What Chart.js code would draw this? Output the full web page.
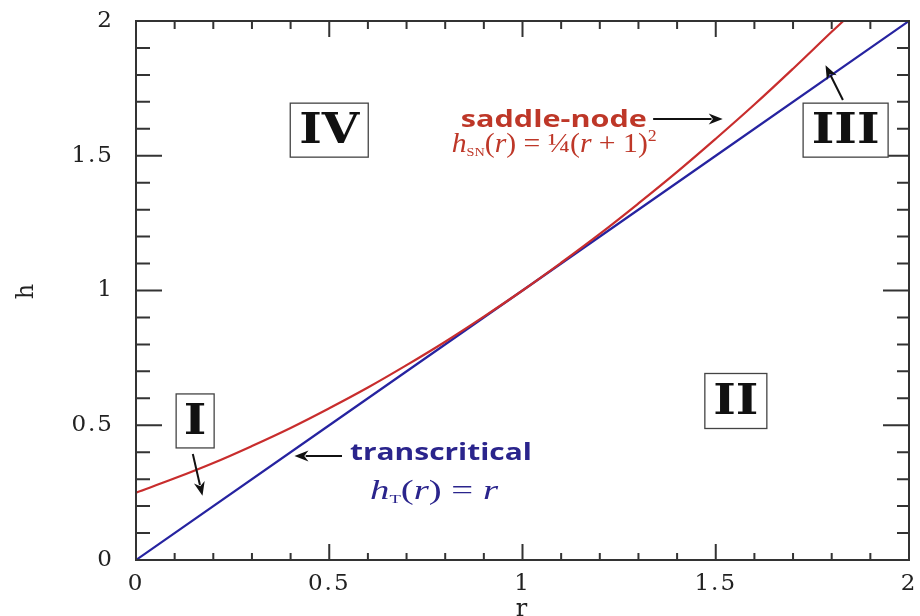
<!DOCTYPE html>
<html>
<head>
<meta charset="utf-8">
<script src="https://cdn.jsdelivr.net/npm/chart.js@4.4.1/dist/chart.umd.min.js"></script>
<style>
  html, body { margin: 0; padding: 0; background: #ffffff; }
  #wrap { width: 920px; height: 616px; position: relative; }
</style>
</head>
<body>
<div id="wrap"><canvas id="c" width="920" height="616"></canvas></div>
<script>
// ---------- data ----------
const rSaddleNode = [0, 0.1, 0.2, 0.3, 0.4, 0.5, 0.6, 0.7, 0.8, 0.9, 1.0, 1.1, 1.2, 1.3, 1.4, 1.5, 1.6, 1.7, 1.8, 1.83];
const hSaddleNode = [0.250, 0.303, 0.360, 0.423, 0.490, 0.563, 0.640, 0.723, 0.810, 0.903, 1.000, 1.103, 1.210, 1.323, 1.440, 1.563, 1.690, 1.823, 1.960, 2.000];
const rTranscritical = [0, 0.5, 1.0, 1.5, 2.0];
const hTranscritical = [0, 0.5, 1.0, 1.5, 2.0];
const xTickLabels = ['0', '0.5', '1', '1.5', '2'];
const yTickLabels = ['0', '0.5', '1', '1.5', '2'];
const minorTickValues = [0, 0.1, 0.2, 0.3, 0.4, 0.5, 0.6, 0.7, 0.8, 0.9, 1.0, 1.1, 1.2, 1.3, 1.4, 1.5, 1.6, 1.7, 1.8, 1.9, 2.0];
const regionNames = ['I', 'II', 'III', 'IV'];
const seriesNames = ['saddle-node', 'transcritical'];

// ---------- annotation placement (data coordinates) ----------
const regionPlacement = [
  { r: 0.153, h: 0.516, w: 38, hgt: 54 },
  { r: 1.552, h: 0.590, w: 62, hgt: 55 },
  { r: 1.836, h: 1.595, w: 85, hgt: 54 },
  { r: 0.500, h: 1.595, w: 78, hgt: 54 }
];
const arrows = [
  { from: [0.147, 0.393], to: [0.172, 0.238] },
  { from: [0.533, 0.386], to: [0.410, 0.386] },
  { from: [1.338, 1.636], to: [1.518, 1.636] },
  { from: [1.829, 1.707], to: [1.784, 1.836] }
];

const RED_LINE = 'rgb(200,45,45)';
const BLUE_LINE = 'rgb(38,35,160)';
const RED_TEXT = 'rgb(190,55,40)';
const BLUE_TEXT = 'rgb(42,36,140)';
const AXIS = '#333333';

function drawArrow(ctx, x1, y1, x2, y2) {
  const ang = Math.atan2(y2 - y1, x2 - x1);
  const hl = 14, hw = 5.5;
  ctx.save();
  ctx.strokeStyle = '#111';
  ctx.fillStyle = '#111';
  ctx.lineWidth = 2;
  ctx.beginPath();
  ctx.moveTo(x1, y1);
  ctx.lineTo(x2 - Math.cos(ang) * hl * 0.8, y2 - Math.sin(ang) * hl * 0.8);
  ctx.stroke();
  ctx.beginPath();
  ctx.moveTo(x2, y2);
  ctx.lineTo(x2 - Math.cos(ang) * hl - Math.sin(ang) * hw, y2 - Math.sin(ang) * hl + Math.cos(ang) * hw);
  ctx.lineTo(x2 - Math.cos(ang) * hl * 0.7, y2 - Math.sin(ang) * hl * 0.7);
  ctx.lineTo(x2 - Math.cos(ang) * hl + Math.sin(ang) * hw, y2 - Math.sin(ang) * hl - Math.cos(ang) * hw);
  ctx.closePath();
  ctx.fill();
  ctx.restore();
}

// draw a run of text pieces, centred at (cx, baseline cy), scaled to targetW
function drawPieces(ctx, pieces, cx, cy, color, targetW) {
  ctx.save();
  ctx.fillStyle = color;
  ctx.textBaseline = 'alphabetic';
  ctx.textAlign = 'left';
  let total = 0;
  pieces.forEach(p => { ctx.font = p.f; p.w = ctx.measureText(p.t).width; total += p.w; });
  const sx = targetW / total;
  const sy = Math.min(sx, 1.08);
  ctx.translate(cx, cy);
  ctx.scale(sx, sy);
  let x = -total / 2;
  pieces.forEach(p => { ctx.font = p.f; ctx.fillText(p.t, x, (p.dy || 0)); x += p.w; });
  ctx.restore();
}

function drawFitted(ctx, text, font, cx, cy, color, targetW) {
  ctx.save();
  ctx.font = font;
  ctx.fillStyle = color;
  ctx.textAlign = 'center';
  ctx.textBaseline = 'middle';
  const w = ctx.measureText(text).width;
  ctx.translate(cx, cy);
  ctx.scale(targetW / w, 1);
  ctx.fillText(text, 0, 0);
  ctx.restore();
}

const SERIF = '"Liberation Serif", "DejaVu Serif", serif';
const I24 = 'italic 25px ' + SERIF;
const N24 = '25px ' + SERIF;
const SUB = '12px ' + SERIF;

const spacingPlugin = {
  id: 'spacing',
  beforeDraw(chart) { chart.ctx.letterSpacing = '2px'; },
  afterDraw(chart) { chart.ctx.letterSpacing = '0px'; }
};

const decorPlugin = {
  id: 'decor',
  afterDatasetsDraw(chart) {
    const ctx = chart.ctx;
    const xs = chart.scales.x, ys = chart.scales.y;
    const a = chart.chartArea;
    ctx.save();
    ctx.letterSpacing = '0px';
    // frame
    ctx.strokeStyle = AXIS;
    ctx.lineWidth = 2;
    ctx.strokeRect(a.left, a.top, a.right - a.left, a.bottom - a.top);
    // inward ticks on all four sides
    ctx.lineWidth = 2;
    minorTickValues.forEach(v => {
      const major = Math.abs(v * 2 - Math.round(v * 2)) < 1e-6;
      const px = xs.getPixelForValue(v);
      const py = ys.getPixelForValue(v);
      ctx.beginPath();
      ctx.moveTo(px, a.bottom); ctx.lineTo(px, a.bottom - (major ? 16 : 7));
      ctx.moveTo(px, a.top); ctx.lineTo(px, a.top + (major ? 16 : 8));
      ctx.moveTo(a.left, py); ctx.lineTo(a.left + (major ? 26 : 14), py);
      ctx.moveTo(a.right, py); ctx.lineTo(a.right - (major ? 26 : 12), py);
      ctx.stroke();
    });
    // region boxes
    regionNames.forEach((name, i) => {
      const p = regionPlacement[i];
      const cx = xs.getPixelForValue(p.r), cy = ys.getPixelForValue(p.h);
      ctx.fillStyle = '#fff';
      ctx.fillRect(cx - p.w / 2, cy - p.hgt / 2, p.w, p.hgt);
      ctx.strokeStyle = '#444';
      ctx.lineWidth = 1.3;
      ctx.strokeRect(cx - p.w / 2, cy - p.hgt / 2, p.w, p.hgt);
      ctx.fillStyle = '#111';
      ctx.font = 'bold 42px "DejaVu Serif", serif';
      ctx.textAlign = 'center';
      ctx.textBaseline = 'middle';
      ctx.save();
      ctx.translate(cx, cy + 2);
      ctx.scale(1.15, 1);
      ctx.fillText(name, 0, 0);
      ctx.restore();
    });
    // arrows
    arrows.forEach(ar => {
      drawArrow(ctx, xs.getPixelForValue(ar.from[0]), ys.getPixelForValue(ar.from[1]),
                     xs.getPixelForValue(ar.to[0]), ys.getPixelForValue(ar.to[1]));
    });
    // series labels
    const LBL = 'bold 23px "Open Sans", Lato, sans-serif';
    drawFitted(ctx, seriesNames[0], LBL, xs.getPixelForValue(1.081), ys.getPixelForValue(1.632), RED_TEXT, 186);
    drawFitted(ctx, seriesNames[1], LBL, xs.getPixelForValue(0.789), ys.getPixelForValue(0.396), BLUE_TEXT, 182);
    // formulas
    drawPieces(ctx, [
      { t: 'h', f: I24 }, { t: 'SN', f: SUB, dy: 4 }, { t: '(', f: N24 }, { t: 'r', f: I24 },
      { t: ') = ', f: N24 }, { t: '¼', f: N24 }, { t: '(', f: N24 }, { t: 'r', f: I24 },
      { t: ' + 1)', f: N24 }, { t: '2', f: '15px ' + SERIF, dy: -10 }
    ], xs.getPixelForValue(1.082), ys.getPixelForValue(1.515), RED_TEXT, 205);
    drawPieces(ctx, [
      { t: 'h', f: I24 }, { t: 'T', f: SUB, dy: 4 }, { t: '(', f: N24 }, { t: 'r', f: I24 },
      { t: ') = ', f: N24 }, { t: 'r', f: I24 }
    ], xs.getPixelForValue(0.771), ys.getPixelForValue(0.226), BLUE_TEXT, 128);
    ctx.restore();
  }
};

const TICK_FONT = { family: '"DejaVu Serif", serif', size: 23 };

new Chart(document.getElementById('c'), {
  type: 'line',
  data: {
    datasets: [
      {
        label: seriesNames[0],
        data: rSaddleNode.map((r, i) => ({ x: r, y: hSaddleNode[i] })),
        borderColor: RED_LINE,
        borderWidth: 2.2,
        pointRadius: 0,
        tension: 0.4,
        fill: false
      },
      {
        label: seriesNames[1],
        data: rTranscritical.map((r, i) => ({ x: r, y: hTranscritical[i] })),
        borderColor: BLUE_LINE,
        borderWidth: 2.2,
        pointRadius: 0,
        fill: false
      }
    ]
  },
  options: {
    responsive: false,
    animation: false,
    events: [],
    layout: { padding: { left: 0, top: 21, right: 11, bottom: 0 } },
    plugins: { legend: { display: false }, tooltip: { enabled: false }, title: { display: false } },
    scales: {
      x: {
        type: 'linear',
        min: 0, max: 2,
        grid: { display: false, drawTicks: false },
        border: { display: false },
        ticks: {
          stepSize: 0.5,
          color: '#222',
          font: TICK_FONT,
          padding: 10,
          maxRotation: 0,
          callback: (v) => { const i = Math.round(v * 2); return xTickLabels[i]; }
        },
        title: { display: true, text: 'r', color: '#222', font: { family: '"DejaVu Serif", serif', size: 24 }, padding: { top: 0, bottom: -8 } },
        afterFit: (s) => { s.height = 56; s.paddingLeft = 0; s.paddingRight = 0; }
      },
      y: {
        type: 'linear',
        min: 0, max: 2,
        grid: { display: false, drawTicks: false },
        border: { display: false },
        ticks: {
          stepSize: 0.5,
          color: '#222',
          font: TICK_FONT,
          padding: 22,
          callback: (v) => { const i = Math.round(v * 2); return yTickLabels[i]; }
        },
        title: { display: true, text: 'h', color: '#222', font: { family: '"DejaVu Serif", serif', size: 24 }, padding: { top: 12, bottom: 0 } },
        afterFit: (s) => { s.width = 136; s.paddingTop = 0; s.paddingBottom = 0; }
      }
    }
  },
  plugins: [spacingPlugin, decorPlugin]
});
</script>
</body>
</html>
